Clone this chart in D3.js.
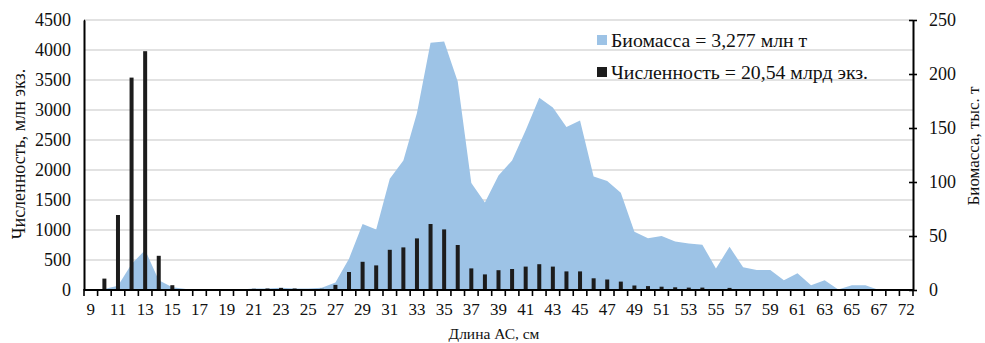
<!DOCTYPE html>
<html>
<head>
<meta charset="utf-8">
<script src="https://cdn.jsdelivr.net/npm/d3@7"></script>
<style>
  html, body { margin: 0; padding: 0; background: #fff; }
  svg { display: block; }
  svg text { font-family: "Liberation Serif", "Times New Roman", "DejaVu Serif", serif !important; fill: #111; }
</style>
</head>
<body>
<svg id="chart" width="985" height="343"></svg>
<script>
// Size classes of fish length, cm
const lengths = [9,10,11,12,13,14,15,16,17,18,19,20,21,22,23,24,25,26,27,28,29,30,
  31,32,33,34,35,36,37,38,39,40,41,42,43,44,45,46,47,48,49,50,51,52,53,54,55,56,
  57,58,59,60,61,62,63,64,65,66,67,68,72];

// Abundance per size class, mln individuals (left axis, bars)
const abundance = [0,190,1250,3540,3980,570,80,0,0,0,0,0,20,25,35,25,15,20,
  85,300,470,410,670,710,860,1100,1010,750,360,260,330,350,390,430,390,310,310,
  195,175,140,75,65,55,45,40,40,0,35,0,0,0,0,0,0,0,0,0,0,0,0,0];

// Biomass per size class, thousand tonnes (right axis, area)
const biomass = [0,1,4,24,37,9,2.5,1,0.5,0.5,0.5,0.5,1.5,1.5,2,1.5,1.5,2,
  7,29,61,56,103,120,164,229,230,193,99,81,106,120,148,178,169,151,157,
  105,101,90,54,48,50,45,43,42,20,40,21,18.5,18.5,9,15.5,4.5,9,0.5,4.5,4.5,0,0,0];

const leftTicks = [0,500,1000,1500,2000,2500,3000,3500,4000,4500];
const rightTicks = [0,50,100,150,200,250];

const legendLabels = ["Биомасса = 3,277 млн т", "Численность = 20,54 млрд экз."];
const axisTitles = { x: "Длина АС, см", left: "Численность, млн экз.", right: "Биомасса, тыс. т" };

const colors = { area: "#9dc3e6", bar: "#1c1c1c", grid: "#d9d9d9", axis: "#000" };

const svg = d3.select("#chart");
const plot = { left: 84, right: 913, top: 20, bottom: 290 };

// Band scale over the size classes; centres carry bars and area vertices
const xc = d3.scaleBand().domain(lengths.map(String)).range([plot.left, plot.right]);
const cx = d => xc(String(d)) + xc.bandwidth() / 2;

const yL = d3.scaleLinear().domain([0, 4500]).range([plot.bottom, plot.top]);
const yR = d3.scaleLinear().domain([0, 250]).range([plot.bottom, plot.top]);

// Horizontal gridlines from the left axis
svg.append("g").selectAll("line").data(leftTicks.slice(1)).join("line")
  .attr("x1", plot.left).attr("x2", plot.right)
  .attr("y1", d => yL(d)).attr("y2", d => yL(d))
  .attr("stroke", colors.grid).attr("stroke-width", 1.6);

// Biomass area
const area = d3.area()
  .x((d, i) => cx(lengths[i]))
  .y0(plot.bottom)
  .y1(d => yR(d));
svg.append("path").datum(biomass)
  .attr("d", area)
  .attr("fill", colors.area);

// Abundance bars
svg.append("g").selectAll("rect").data(abundance).join("rect")
  .attr("x", (d, i) => cx(lengths[i]) - 2)
  .attr("width", 4)
  .attr("y", d => yL(d))
  .attr("height", d => plot.bottom - yL(d))
  .attr("fill", colors.bar);

// Bottom axis: labels on every other class
const xAxis = d3.axisBottom(xc)
  .tickValues(lengths.filter((d, i) => i % 2 === 0).map(String))
  .tickSize(0).tickPadding(13);
const gx = svg.append("g").attr("transform", `translate(0,${plot.bottom})`).call(xAxis);
gx.select(".domain").remove();
gx.selectAll("text").attr("font-size", 17);

// Tick marks at class boundaries
const bounds = lengths.map(d => xc(String(d))).concat([plot.right]);
svg.append("g").selectAll("line").data(bounds).join("line")
  .attr("x1", d => d).attr("x2", d => d)
  .attr("y1", plot.bottom - 1).attr("y2", plot.bottom + 6)
  .attr("stroke", colors.axis).attr("stroke-width", 1.6);
svg.append("line")
  .attr("x1", plot.left).attr("x2", plot.right)
  .attr("y1", plot.bottom).attr("y2", plot.bottom)
  .attr("stroke", colors.axis).attr("stroke-width", 2);

// Left axis
const gl = svg.append("g").attr("transform", `translate(${plot.left},0)`)
  .call(d3.axisLeft(yL).tickValues(leftTicks).tickFormat(d3.format("d"))
    .tickSizeInner(5).tickSizeOuter(0).tickPadding(8));
gl.select(".domain").attr("stroke-width", 2);
gl.selectAll(".tick line").attr("x2", 1).attr("stroke-width", 1.6);
gl.selectAll("text").attr("font-size", 18);

// Right axis
const gr = svg.append("g").attr("transform", `translate(${plot.right},0)`)
  .call(d3.axisRight(yR).tickValues(rightTicks).tickFormat(d3.format("d"))
    .tickSizeInner(4).tickSizeOuter(0).tickPadding(12));
gr.select(".domain").attr("stroke-width", 2);
gr.selectAll(".tick line").attr("x1", -4).attr("stroke-width", 1.6);
gr.selectAll("text").attr("font-size", 18);

// Axis titles
svg.append("text")
  .attr("x", 494).attr("y", 339)
  .attr("text-anchor", "middle").attr("font-size", 15.5)
  .text(axisTitles.x);
svg.append("text")
  .attr("transform", "translate(25,154) rotate(-90)")
  .attr("text-anchor", "middle").attr("font-size", 18)
  .text(axisTitles.left);
svg.append("text")
  .attr("transform", "translate(979,146) rotate(-90)")
  .attr("text-anchor", "middle").attr("font-size", 17)
  .text(axisTitles.right);

// Legend
const legend = svg.append("g").attr("transform", "translate(597,35)");
const items = legend.selectAll("g").data(legendLabels).join("g")
  .attr("transform", (d, i) => `translate(0,${i * 32})`);
items.append("rect").attr("width", 10).attr("height", 10)
  .attr("fill", (d, i) => i === 0 ? colors.area : colors.bar);
items.append("text").attr("x", 14).attr("y", 11.5)
  .attr("font-size", 19.8)
  .text(d => d);
</script>
</body>
</html>
